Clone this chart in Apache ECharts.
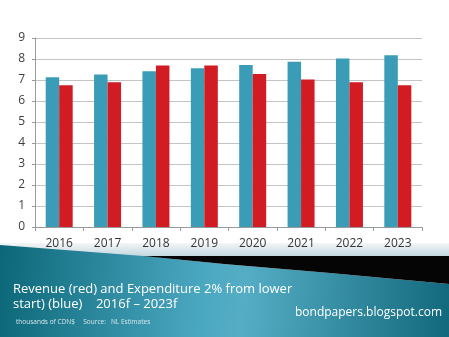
<!DOCTYPE html>
<html>
<head>
<meta charset="utf-8">
<script src="https://cdn.jsdelivr.net/npm/echarts@6/dist/echarts.min.js"></script>
<style>
  html, body { margin: 0; padding: 0; background: #ffffff; }
  #chart { width: 449px; height: 337px; }
</style>
</head>
<body>
<div id="chart"></div>
<script>
// Fiscal years (forecast)
const years = ['2016', '2017', '2018', '2019', '2020', '2021', '2022', '2023'];
// Expenditure growing 2% from a lower start (blue)
const expenditure = [7.13, 7.26, 7.42, 7.56, 7.72, 7.87, 8.02, 8.18];
// Revenue (red)
const revenue = [6.75, 6.89, 7.69, 7.69, 7.29, 7.02, 6.89, 6.75];
const yTicks = [0, 1, 2, 3, 4, 5, 6, 7, 8, 9];

const titleLine1 = 'Revenue (red) and Expenditure 2% from lower';
const titleLine2 = 'start) (blue)    2016f \u2013 2023f';
const noteText = 'thousands of CDN$     Source:   NL Estimates';
const siteText = 'bondpapers.blogspot.com';

const chart = echarts.init(document.getElementById('chart'), null, { renderer: 'canvas' });

const font = '"Open Sans", "Noto Sans", sans-serif';

// footer text drawn at explicit anchor points
function label(text, x, y, size, color, align) {
  return {
    type: 'text',
    x: x, y: y,
    style: {
      text: text, fill: color, font: size + 'px ' + font,
      align: align || 'left', verticalAlign: 'middle'
    },
    z: 5
  };
}

chart.setOption({
  backgroundColor: '#ffffff',
  animation: false,
  grid: { left: 35, right: 27, top: 38, bottom: 110, containLabel: false },
  xAxis: {
    type: 'category',
    data: years,
    boundaryGap: true,
    axisLine: { show: true, lineStyle: { color: '#9a9a9a', width: 1 } },
    axisTick: { show: true, alignWithLabel: false, length: 4, lineStyle: { color: '#9a9a9a' } },
    axisLabel: { color: '#333333', fontFamily: font, fontSize: 12, margin: 11 },
    splitLine: { show: false }
  },
  yAxis: {
    type: 'value',
    min: yTicks[0],
    max: yTicks[yTicks.length - 1],
    interval: 1,
    axisLine: { show: true, lineStyle: { color: '#9a9a9a', width: 1 } },
    axisTick: { show: true, length: 3, lineStyle: { color: '#9a9a9a' } },
    axisLabel: { color: '#404040', fontFamily: font, fontSize: 12, margin: 10 },
    splitLine: { show: true, lineStyle: { color: '#c4c4c4', width: 1 } }
  },
  series: [
    {
      name: 'Expenditure',
      type: 'bar',
      data: expenditure,
      barWidth: 13.5,
      barGap: '0%',
      itemStyle: { color: '#3a9cb6' },
      z: 3
    },
    {
      name: 'Revenue',
      type: 'bar',
      data: revenue,
      barWidth: 13.5,
      barGap: '0%',
      itemStyle: { color: '#d01c22' },
      z: 3
    }
  ],
  graphic: [
    // pale band under the chart area
    {
      type: 'rect',
      shape: { x: 0, y: 243, width: 449, height: 16 },
      style: {
        fill: new echarts.graphic.LinearGradient(0, 0, 0, 1, [
          { offset: 0, color: '#f4f6f7' },
          { offset: 1, color: '#b7d1db' }
        ])
      },
      z: -10
    },
    // teal footer panel
    {
      type: 'polygon',
      shape: {
        points: [[0, 245], [143, 256], [224, 264], [330, 273], [449, 284], [449, 337], [0, 337]]
      },
      style: {
        fill: new echarts.graphic.LinearGradient(0, 0, 1, 0.35, [
          { offset: 0, color: '#0c6778' },
          { offset: 0.45, color: '#4aa7c0' },
          { offset: 0.55, color: '#55adc5' },
          { offset: 1, color: '#136a7e' }
        ])
      },
      z: -9
    },
    // black wedge
    {
      type: 'polygon',
      shape: {
        points: [[143, 256], [449, 256], [449, 284], [330, 273], [224, 264]]
      },
      style: { fill: '#050505' },
      z: -8
    },
    label(titleLine1, 13, 289, 13, '#ffffff'),
    label(titleLine2, 13, 304, 13, '#ffffff'),
    label(noteText, 16, 322, 6.5, '#d6e6ea'),
    label(siteText, 442, 313, 12, '#ffffff', 'right')
  ]
});
</script>
</body>
</html>
